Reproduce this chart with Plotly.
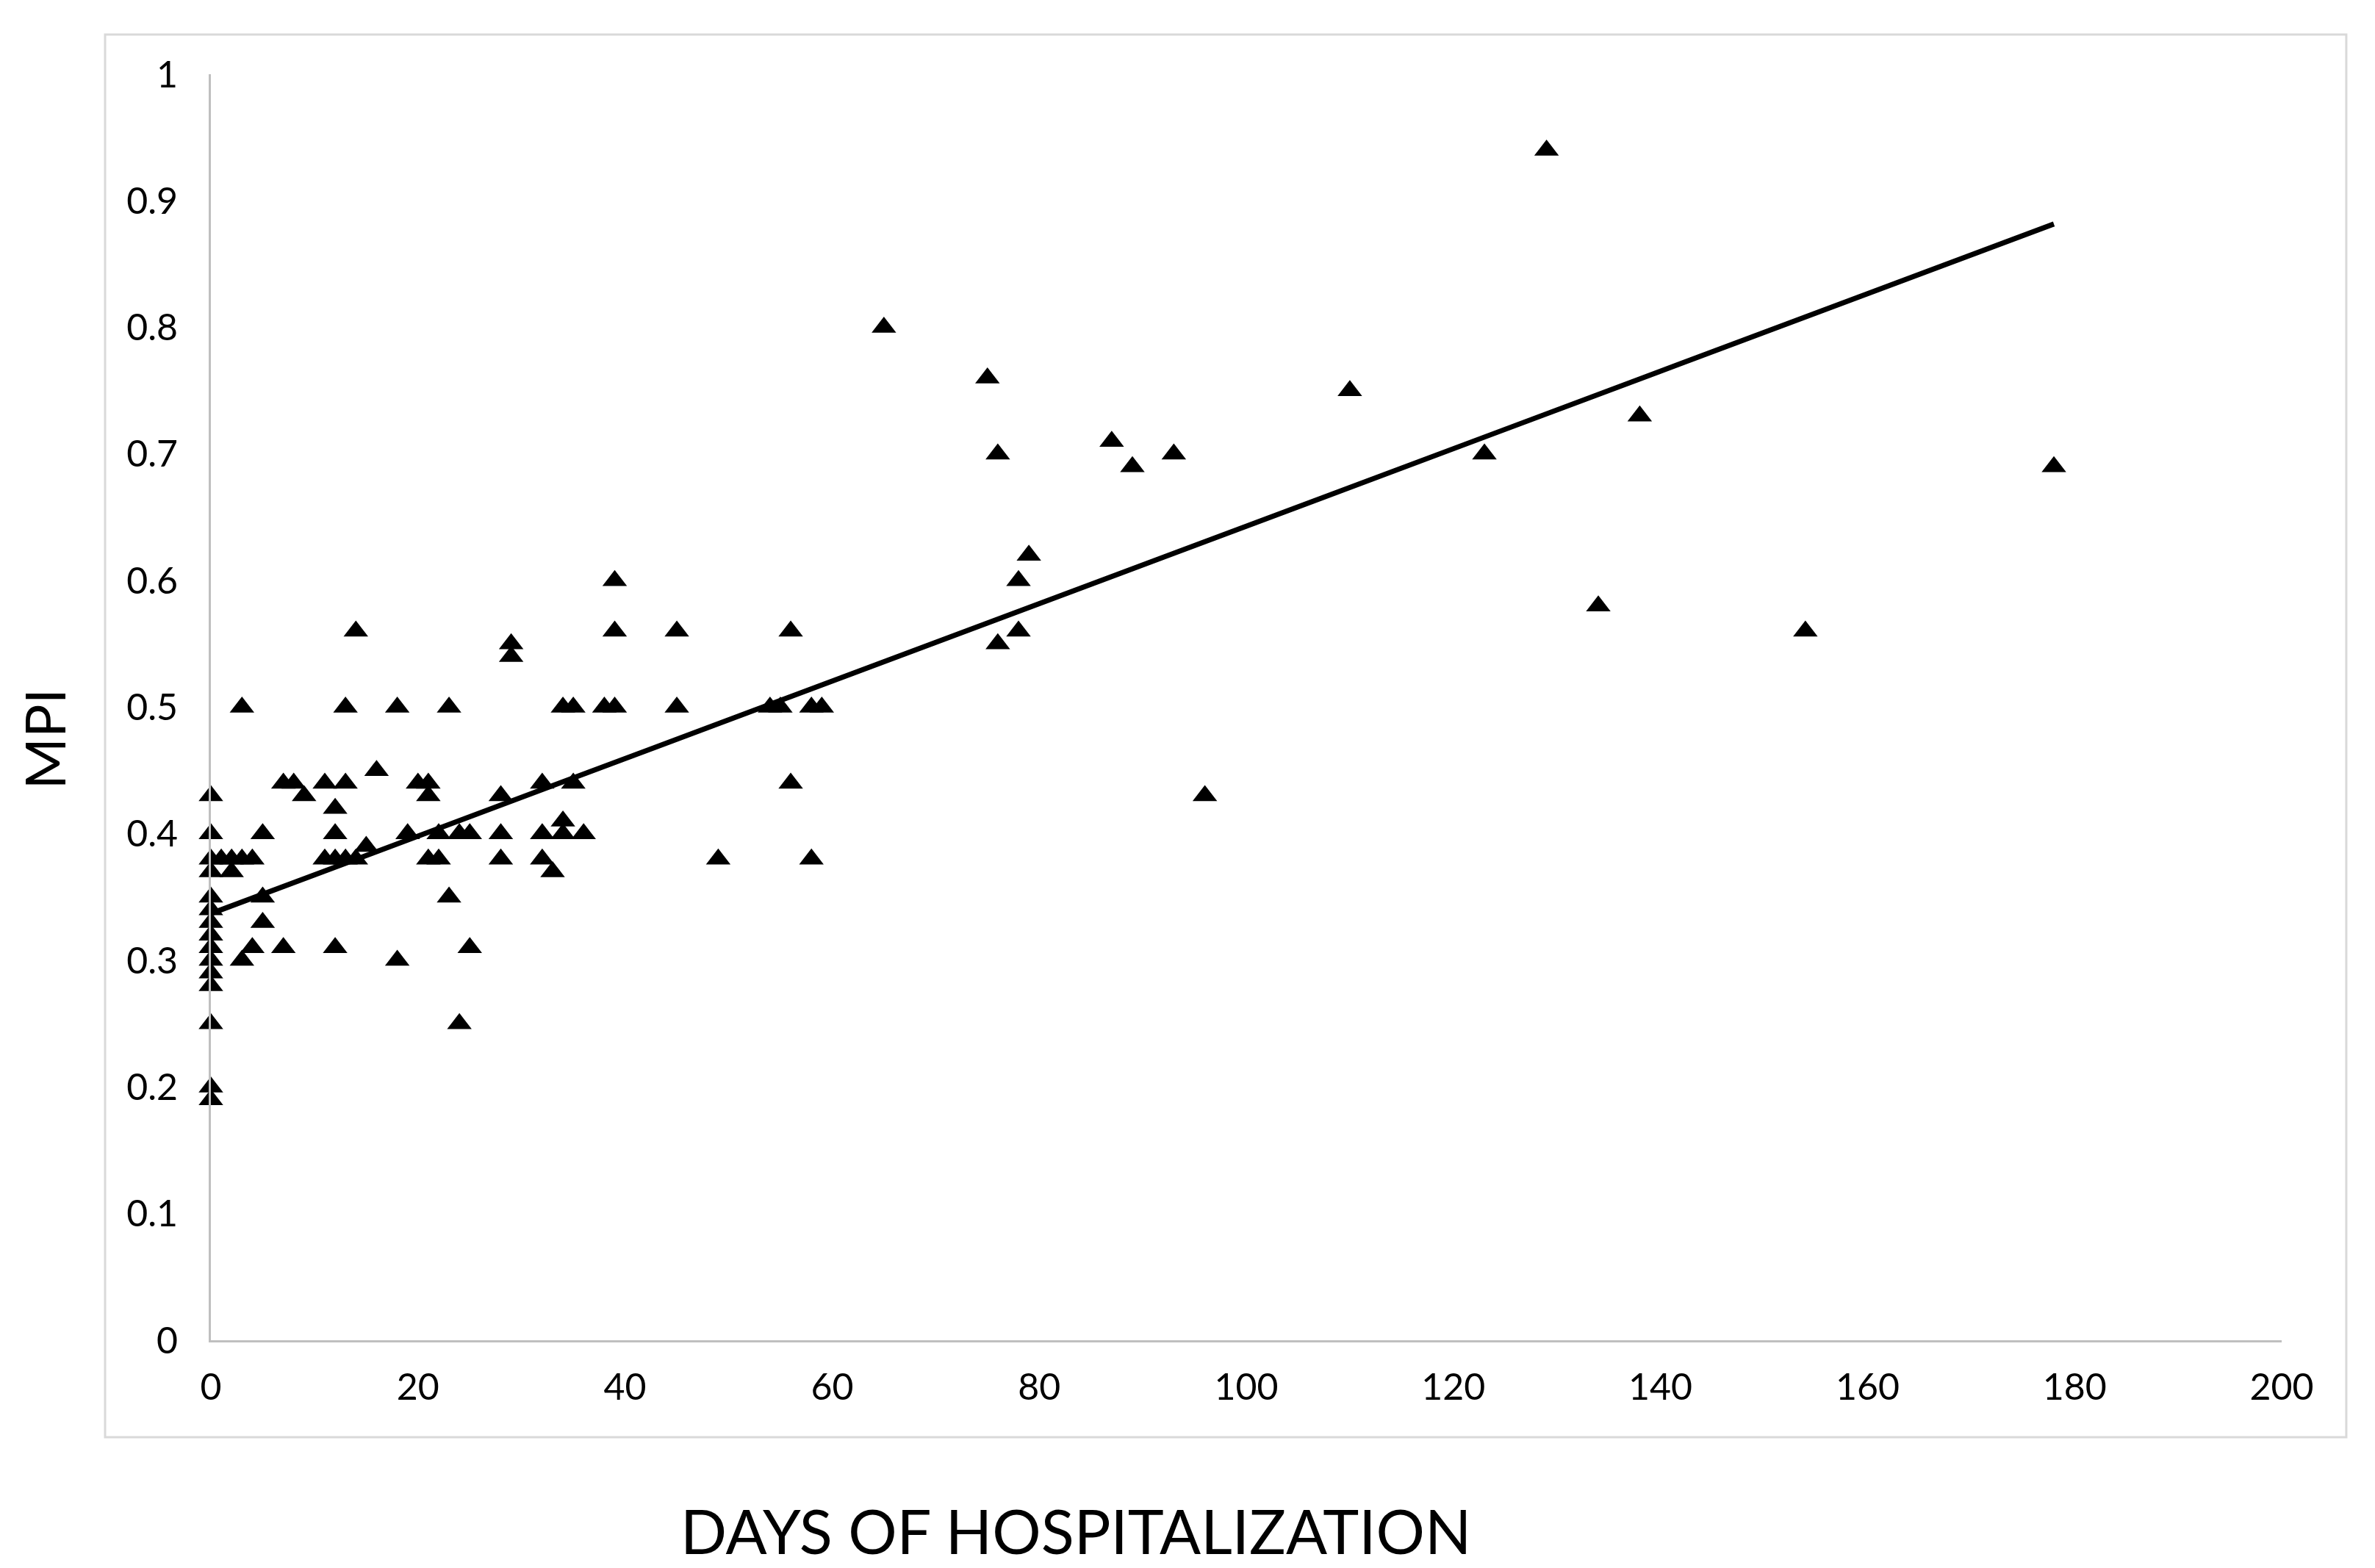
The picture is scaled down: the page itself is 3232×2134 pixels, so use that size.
import plotly.graph_objects as go

# Days of hospitalization (x) and MPI (y)
days = [
    0, 0, 0, 0, 0, 0, 0, 0, 0, 0, 0, 0, 0, 0, 0,
    1, 2, 2, 3, 3, 3, 4, 4, 5, 5, 5, 7, 7, 8, 9,
    11, 11, 12, 12, 12, 12, 13, 13, 13, 14, 14, 15, 16,
    18, 18, 19, 20, 21, 21, 21, 22, 22, 23, 23, 24, 24, 25, 25,
    28, 28, 28, 29, 29, 32, 32, 32, 33, 34, 34, 34, 35, 35, 36,
    38, 39, 39, 39, 45, 45, 49, 54, 55, 56, 56, 58, 58, 59,
    65, 75, 76, 76, 78, 78, 79, 87, 89, 93, 96,
    110, 123, 129, 134, 138, 154, 178,
]
mpi = [
    0.43, 0.40, 0.38, 0.37, 0.35, 0.34, 0.33, 0.32, 0.31, 0.30, 0.29, 0.28, 0.25, 0.20, 0.19,
    0.38, 0.38, 0.37, 0.38, 0.50, 0.30, 0.38, 0.31, 0.40, 0.35, 0.33, 0.44, 0.31, 0.44, 0.43,
    0.44, 0.38, 0.42, 0.40, 0.38, 0.31, 0.50, 0.44, 0.38, 0.56, 0.38, 0.39, 0.45,
    0.50, 0.30, 0.40, 0.44, 0.44, 0.43, 0.38, 0.40, 0.38, 0.50, 0.35, 0.40, 0.25, 0.40, 0.31,
    0.43, 0.40, 0.38, 0.55, 0.54, 0.44, 0.40, 0.38, 0.37, 0.50, 0.41, 0.40, 0.50, 0.44, 0.40,
    0.50, 0.60, 0.56, 0.50, 0.56, 0.50, 0.38, 0.50, 0.50, 0.56, 0.44, 0.50, 0.38, 0.50,
    0.80, 0.76, 0.70, 0.55, 0.60, 0.56, 0.62, 0.71, 0.69, 0.70, 0.43,
    0.75, 0.70, 0.94, 0.58, 0.73, 0.56, 0.69,
]

# Linear trendline
trend_intercept = 0.337
trend_slope = 0.00306

x_ticks = [0, 20, 40, 60, 80, 100, 120, 140, 160, 180, 200]
y_ticks = [0, 0.1, 0.2, 0.3, 0.4, 0.5, 0.6, 0.7, 0.8, 0.9, 1]

x_title = "DAYS OF HOSPITALIZATION"
y_title = "MPI"

FONT = "Lato"

trend_x = [min(days), max(days)]
trend_y = [trend_intercept + trend_slope * v for v in trend_x]

fig = go.Figure()
fig.add_trace(go.Scatter(
    x=days, y=mpi, mode="markers",
    marker=dict(symbol="triangle-up", size=29, color="black", line=dict(width=0)),
    showlegend=False, cliponaxis=False,
))
fig.add_trace(go.Scatter(
    x=trend_x, y=trend_y, mode="lines",
    line=dict(color="black", width=7),
    showlegend=False,
))

axis_common = dict(
    showgrid=False, zeroline=False, showline=True,
    linecolor="#bfbfbf", linewidth=3, ticks="",
    tickfont=dict(family=FONT, size=50, color="black"),
)
fig.update_xaxes(range=[0, 200], tickvals=x_ticks, ticklabelstandoff=18, **axis_common)
fig.update_yaxes(range=[0, 1], tickvals=y_ticks, ticklabelstandoff=32, **axis_common)

fig.update_layout(
    width=3232, height=2134,
    margin=dict(l=279, r=135, t=93, b=318),
    paper_bgcolor="white", plot_bgcolor="white",
    font=dict(family=FONT, color="black"),
    shapes=[dict(
        type="rect", xref="paper", yref="paper",
        x0=-0.0511, x1=1.0312, y0=-0.0766, y1=1.0313,
        line=dict(color="#d9d9d9", width=3), layer="below",
    )],
    annotations=[
        dict(text=x_title, xref="paper", yref="paper", x=0.4177, y=-0.1505,
             showarrow=False, xanchor="center", yanchor="middle",
             font=dict(family=FONT, size=83, color="black")),
        dict(text=y_title, xref="paper", yref="paper", x=-0.0806, y=0.475,
             showarrow=False, xanchor="center", yanchor="middle", textangle=-90,
             font=dict(family=FONT, size=76, color="black")),
    ],
)

fig.write_html("out.html")
